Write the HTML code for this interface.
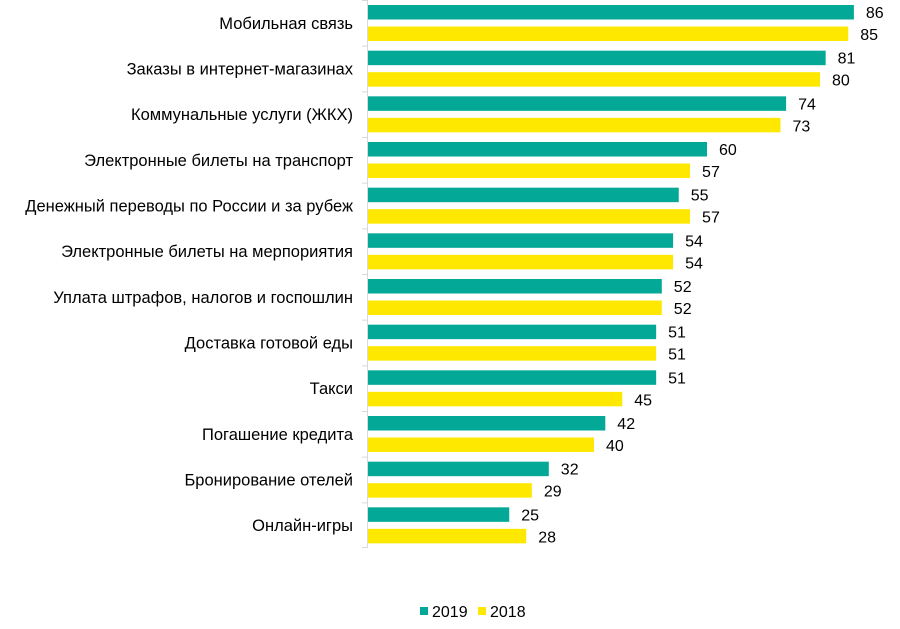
<!DOCTYPE html>
<html><head><meta charset="utf-8"><style>
body{margin:0;background:#fff;}
svg text{font-family:"Liberation Sans",Arial,sans-serif;font-size:16px;fill:#000;}
svg text.c{font-size:16.5px;}
</style></head><body>
<svg width="900" height="624" xmlns="http://www.w3.org/2000/svg">
<rect width="900" height="624" fill="#fff"/>
<g id="g"></g>
<line x1="367.5" y1="0" x2="367.5" y2="548" stroke="#d9d9d9" stroke-width="1"/>
<rect x="420" y="607" width="8" height="8" fill="#03a996"/>
<text x="432" y="617">2019</text>
<rect x="478" y="607" width="8" height="8" fill="#ffe800"/>
<text x="490" y="617">2018</text>
</svg>
<script>
var d=[["Мобильная связь",86,85],["Заказы в интернет-магазинах",81,80],["Коммунальные услуги (ЖКХ)",74,73],["Электронные билеты на транспорт",60,57],["Денежный переводы по России и за рубеж",55,57],["Электронные билеты на мерпориятия",54,54],["Уплата штрафов, налогов и госпошлин",52,52],["Доставка готовой еды",51,51],["Такси",51,45],["Погашение кредита",42,40],["Бронирование отелей",32,29],["Онлайн-игры",25,28]];
var s="",h=548/12,k=5.65,x0=368;
d.forEach(function(r,i){var y=i*h;
s+='<line x1="362" y1="'+(y+0.5)+'" x2="368" y2="'+(y+0.5)+'" stroke="#d9d9d9"/>';
s+='<text class="c" x="353" y="'+(y+h/2+6)+'" text-anchor="end">'+r[0]+'</text>';
s+='<rect x="'+x0+'" y="'+(y+5)+'" width="'+(r[1]*k)+'" height="14.5" fill="#03a996"/>';
s+='<text x="'+(x0+r[1]*k+12)+'" y="'+(y+18)+'">'+r[1]+'</text>';
s+='<rect x="'+x0+'" y="'+(y+26.5)+'" width="'+(r[2]*k)+'" height="14.5" fill="#ffe800"/>';
s+='<text x="'+(x0+r[2]*k+12)+'" y="'+(y+40)+'">'+r[2]+'</text>';});
s+='<line x1="362" y1="547.5" x2="368" y2="547.5" stroke="#d9d9d9"/>';
document.getElementById("g").innerHTML=s;
</script>
</body></html>
